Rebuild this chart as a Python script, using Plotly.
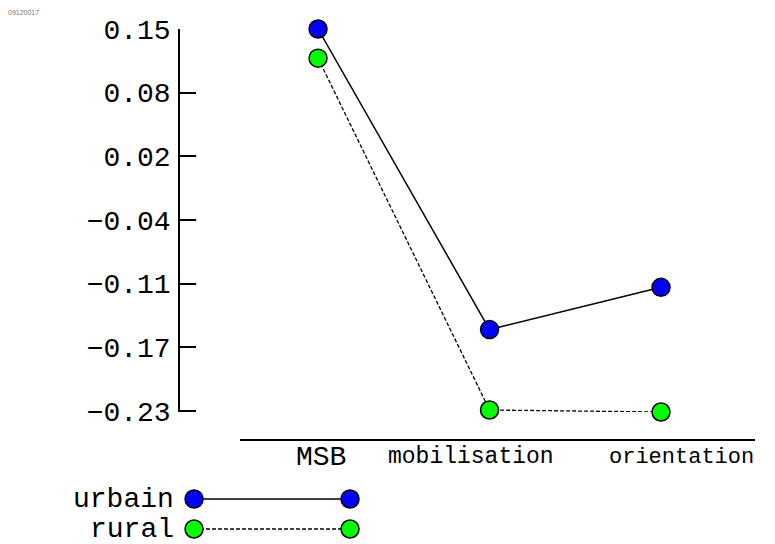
import plotly.graph_objects as go

# data
categories = ["MSB", "mobilisation", "orientation"]
urbain = [0.150, -0.149, -0.107]
rural = [0.121, -0.229, -0.231]
groups = ["urbain", "rural"]

tick_vals = [0.15, 0.0867, 0.0233, -0.04, -0.1033, -0.1667, -0.23]
tick_text = ["0.15", "0.08", "0.02", "\u22120.04", "\u22120.11", "\u22120.17", "\u22120.23"]

# category label placement / size (labels are shrunk to fit in the original)
label_pos = [0.02, 0.89, 2.12]
label_size = [28, 23, 22]

FONT = "Liberation Mono, Courier New, monospace"
# page body has an 8px margin, so the figure is sized to the visible area
OFF = 8
W, H = 775 - OFF, 544 - OFF


def px(x):
    return (x - OFF) / W


def py(y):
    return 1 - (y - OFF) / H


x_idx = list(range(len(categories)))

styles = {
    "urbain": dict(line=dict(color="black", width=1.5), fill="#0000ff"),
    "rural": dict(line=dict(color="black", width=1.3, dash="4px,2px"), fill="#00ff00"),
}

fig = go.Figure()

for name, vals in zip(groups, [urbain, rural]):
    st = styles[name]
    fig.add_trace(go.Scatter(
        x=x_idx, y=vals, mode="lines+markers", name=name,
        line=st["line"],
        marker=dict(size=18, color=st["fill"], line=dict(color="black", width=1.5)),
        cliponaxis=False,
    ))

# hand-drawn style legend under the plot
for i, name in enumerate(groups):
    st = styles[name]
    row = len(groups) - 1 - i
    fig.add_trace(go.Scatter(
        x=[0, 1], y=[row, row], mode="lines+markers", xaxis="x2", yaxis="y2",
        line=st["line"],
        marker=dict(size=18, color=st["fill"], line=dict(color="black", width=1.5)),
        cliponaxis=False,
    ))
    fig.add_annotation(
        x=0, y=row, xref="x2", yref="y2", text=name, showarrow=False,
        xanchor="right", yanchor="middle", xshift=-18,
        font=dict(family=FONT, size=28, color="black"),
    )

for pos, txt, sz in zip(label_pos, categories, label_size):
    fig.add_annotation(
        x=pos, y=py(457), xref="x", yref="paper",
        text=txt, showarrow=False, xanchor="center", yanchor="middle",
        font=dict(family=FONT, size=sz, color="black"),
    )

fig.add_annotation(
    x=px(6), y=py(13), xref="paper", yref="paper", text="09120017",
    showarrow=False, xanchor="left", yanchor="middle",
    font=dict(family="Arial", size=7, color="#777777"),
)

fig.update_layout(
    template="none",
    width=W, height=H,
    margin=dict(l=0, r=0, t=0, b=0, autoexpand=False),
    plot_bgcolor="white", paper_bgcolor="white",
    showlegend=False,
    font=dict(family=FONT, color="black"),
    xaxis=dict(
        domain=[px(240), px(755)], range=[-0.455, 2.548],
        anchor="free", position=py(440), automargin=False,
        showline=True, linecolor="black", linewidth=1.5,
        showgrid=False, zeroline=False, ticks="", showticklabels=False,
    ),
    yaxis=dict(
        domain=[py(412), py(29)], range=[-0.231, 0.15],
        anchor="free", position=px(179), automargin=False,
        showline=True, linecolor="black", linewidth=1.5,
        showgrid=False, zeroline=False,
        ticks="inside", ticklen=16, tickwidth=1.5, tickcolor="black",
        tickvals=tick_vals, ticktext=tick_text,
        tickfont=dict(family=FONT, size=28, color="black"),
        ticklabelstandoff=2,
    ),
    xaxis2=dict(
        domain=[px(180), px(365)], range=[-0.09, 1.096], anchor="y2",
        visible=False, automargin=False,
    ),
    yaxis2=dict(
        domain=[0, py(485)], range=[-0.5, 1.467], anchor="x2",
        visible=False, automargin=False,
    ),
)

fig.write_html("out.html")
